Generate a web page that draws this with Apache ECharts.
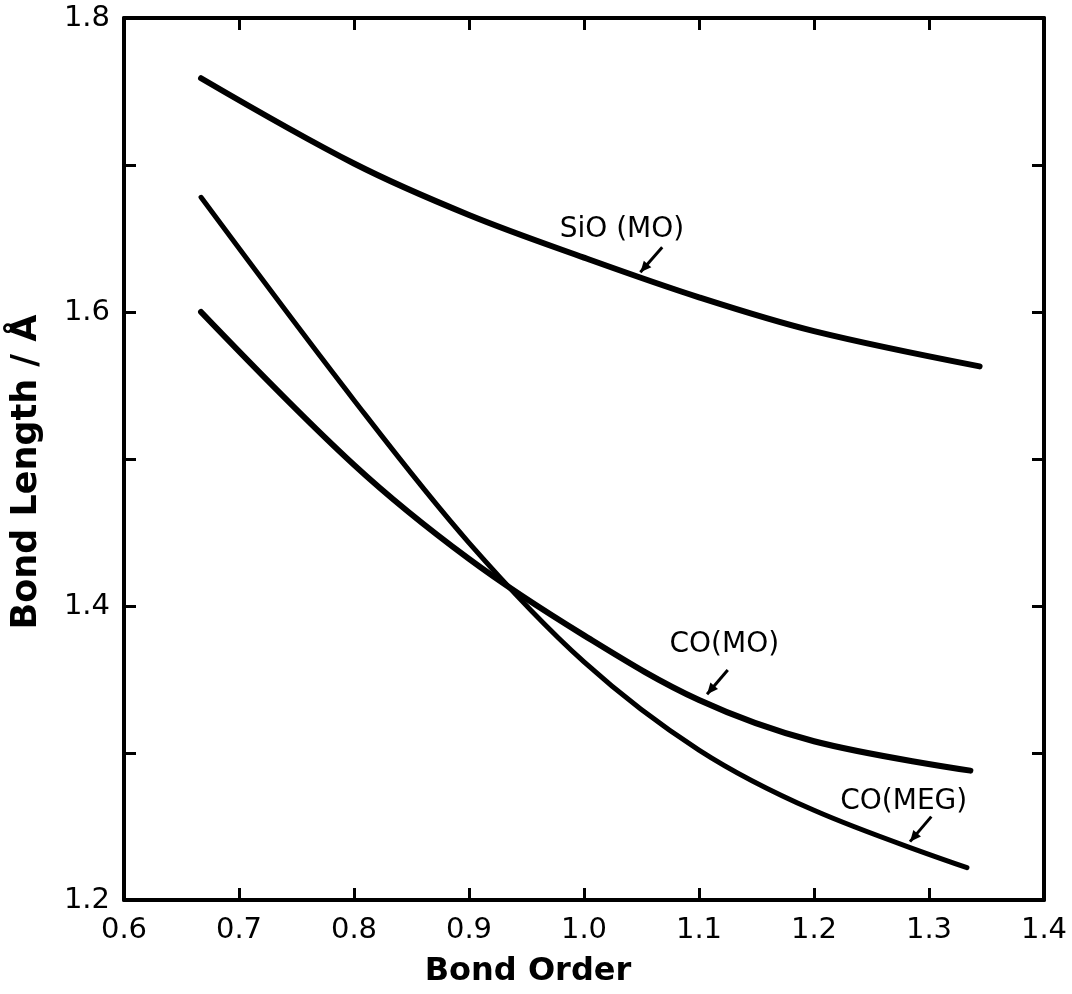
<!DOCTYPE html>
<html>
<head>
<meta charset="utf-8">
<script src="https://cdn.jsdelivr.net/npm/echarts@6/dist/echarts.min.js"></script>
<style>html,body{margin:0;padding:0;background:#fff}#c{width:1072px;height:994px}</style>
</head>
<body>
<div id="c"></div>
<script>
// Data
const sioMO = [[0.667,1.759],[0.8,1.701],[0.9,1.666],[1.0,1.637],[1.1,1.610],[1.2,1.587],[1.344,1.563]];
const coMEG = [[0.667,1.678],[0.8,1.540],[0.9,1.443],[1.0,1.362],[1.1,1.302],[1.2,1.261],[1.333,1.222]];
const coMO  = [[0.667,1.600],[0.8,1.496],[0.9,1.432],[1.0,1.380],[1.1,1.336],[1.2,1.308],[1.336,1.288]];
const labelTexts = ['SiO (MO)','CO(MO)','CO(MEG)'];
const labelPos = [[1.033,1.656],[1.122,1.3735],[1.278,1.2667]];
const arrowFrom = [[1.068,1.644],[1.125,1.3565],[1.302,1.2567]];
const arrowTo = [[1.049,1.627],[1.107,1.340],[1.2835,1.2397]];
const yTickLabels = ['1.2','1.4','1.6','1.8'];

const FONT = 'DejaVu Sans';
const chart = echarts.init(document.getElementById('c'));
function axisCommon(pos, showLabel, isX){
  return {
    type:'value', position:pos, min: isX?0.6:1.2, max: isX?1.4:1.8, interval:0.1,
    axisLine:{show:true, lineStyle:{color:'#000', width:4}},
    axisTick:{show:true, inside:true, length:12, lineStyle:{color:'#000', width:3}},
    splitLine:{show:false},
    axisLabel:{show:showLabel}
  };
}
const xBottom = axisCommon('bottom', true, true);
xBottom.axisLabel = {show:true, color:'#000', fontFamily:FONT, fontSize:29, margin:16,
  formatter: v => (Math.round(v*10)/10).toFixed(1)};
xBottom.name = 'Bond Order';
xBottom.nameLocation = 'middle';
xBottom.nameGap = 56;
xBottom.nameTextStyle = {color:'#000', fontFamily:FONT, fontSize:32, fontWeight:'bold', padding:[0,112,0,0]};
const xTop = axisCommon('top', false, true);
const yLeft = axisCommon('left', true, false);
yLeft.axisLabel = {show:true, color:'#000', fontFamily:FONT, fontSize:29, margin:14,
  formatter: v => { const s=(Math.round(v*10)/10).toFixed(1); return yTickLabels.indexOf(s)>=0 ? s : ''; }};
yLeft.name = 'Bond Length / Å';
yLeft.nameLocation = 'middle';
yLeft.nameGap = 80;
yLeft.nameRotate = 90;
yLeft.nameTextStyle = {color:'#000', fontFamily:FONT, fontSize:35, fontWeight:'bold', padding:[0,26,0,0]};
const yRight = axisCommon('right', false, false);

function lineSeries(name, data, w){
  return {name, type:'line', data, smooth:0.35, showSymbol:false, symbol:'none',
    lineStyle:{color:'#000', width:w, cap:'round', join:'round'}, xAxisIndex:0, yAxisIndex:0, z:3};
}

chart.setOption({
  animation:false,
  backgroundColor:'#fff',
  grid:{left:124, right:28, top:18, bottom:94, containLabel:false, outerBoundsMode:'none'},
  xAxis:[xBottom, xTop],
  yAxis:[yLeft, yRight],
  series:[
    lineSeries('SiO (MO)', sioMO, 6),
    lineSeries('CO(MEG)', coMEG, 5),
    lineSeries('CO(MO)', coMO, 6),
    {type:'line', data:[], xAxisIndex:1, yAxisIndex:1}
  ]
});

const g = [];
labelTexts.forEach((t,i)=>{
  const p = chart.convertToPixel({xAxisIndex:0,yAxisIndex:0}, labelPos[i]);
  g.push({type:'text', x:p[0], y:p[1], style:{text:t, fill:'#000', font:'28px "'+FONT+'"', align:'center', verticalAlign:'middle'}});
  const a = chart.convertToPixel({xAxisIndex:0,yAxisIndex:0}, arrowFrom[i]);
  const b = chart.convertToPixel({xAxisIndex:0,yAxisIndex:0}, arrowTo[i]);
  g.push({type:'line', shape:{x1:a[0],y1:a[1],x2:b[0],y2:b[1]}, style:{stroke:'#000', lineWidth:3}});
  const ang = Math.atan2(b[1]-a[1], b[0]-a[0]);
  const L = 11, W = 5;
  const bx = b[0]-L*Math.cos(ang), by = b[1]-L*Math.sin(ang);
  g.push({type:'polygon', shape:{points:[[b[0],b[1]],[bx+W*Math.sin(ang), by-W*Math.cos(ang)],[bx-W*Math.sin(ang), by+W*Math.cos(ang)]]}, style:{fill:'#000'}});
});
chart.setOption({graphic:g});
</script>
</body>
</html>
